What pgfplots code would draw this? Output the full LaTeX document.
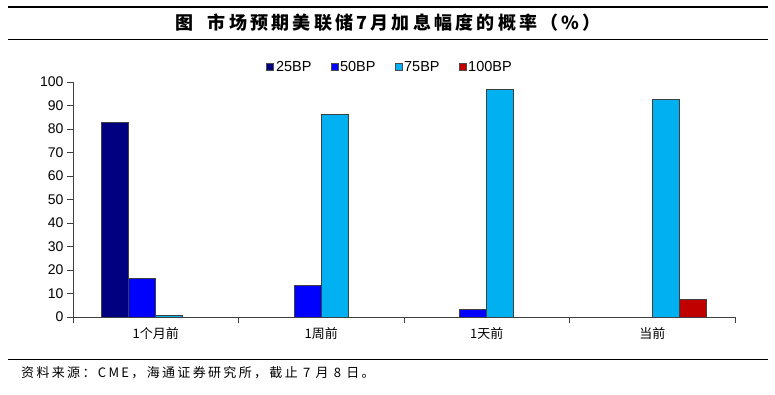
\documentclass[border=0pt]{standalone}
\usepackage{fontspec}
\setmainfont{Liberation Sans}
\newfontfamily\cjk{Noto Sans CJK SC}
\newfontfamily\cjkt[LetterSpace=18]{Noto Sans CJK SC}
\newfontfamily\cjks[LetterSpace=18]{Noto Sans CJK SC}
\usepackage{pgfplots}
\pgfplotsset{compat=1.18}
\definecolor{c25}{HTML}{000080}
\definecolor{c50}{HTML}{0000FF}
\definecolor{c75}{HTML}{00B0F0}
\definecolor{c100}{HTML}{C00000}
\begin{document}
\begin{tikzpicture}
\path (0pt,0pt) rectangle (775pt,395pt);
\draw[line width=1.5pt] (8pt,388pt) -- (768pt,388pt);
\draw[line width=1pt] (8pt,355pt) -- (768pt,355pt);
\node[font=\cjkt\bfseries\fontsize{18}{18}\selectfont] at (388pt,372pt) {图\ \ 市场预期美联储7月加息幅度的概率（\%）};
\draw[line width=1pt] (8pt,35pt) -- (768pt,35pt);
\node[anchor=west, font=\cjks\fontsize{13}{13}\selectfont, inner sep=0pt] at (21pt,22pt) {资料来源：CME，海通证券研究所，截止 7 月 8 日。};
\begin{axis}[
  at={(73pt,78pt)}, anchor=south west,
  scale only axis, width=662pt, height=235pt,
  xmin=-0.5, xmax=3.5, ymin=0, ymax=100,
  axis x line=bottom, axis y line=left,
  axis line style={-, black!75},
  tick style={black!75},
  tick align=outside, major tick length=6pt,
  xtick={-0.5,0.5,1.5,2.5,3.5}, xticklabels={,,,,},
  extra x ticks={0,1,2,3},
  extra x tick labels={1个月前,1周前,1天前,当前},
  extra x tick style={major tick length=0pt, xticklabel style={font=\cjk\fontsize{13}{13}\selectfont, yshift=-7pt}},
  ytick={0,10,...,100},
  yticklabel style={font=\fontsize{14}{14}\selectfont},
  /pgf/number format/assume math mode=true,
  ybar=0pt, bar width=27pt,
  legend image code/.code={\draw[#1,draw=black!70] (0pt,-3.5pt) rectangle (7pt,3.5pt);},
  legend columns=4,
  legend style={at={(0.479,1.064)}, anchor=center, draw=none, font=\fontsize{14.5}{14.5}\selectfont,
    /tikz/every even column/.append style={column sep=17pt}},
  every axis plot/.append style={draw=black!75, line width=0.6pt},
]
\addplot[fill=c25] coordinates {(0,82.8)};
\addplot[fill=c50] coordinates {(0,16.3) (1,13.6) (2,3.1)};
\addplot[fill=c75] coordinates {(0,0.7) (1,86.1) (2,96.9) (3,92.5)};
\addplot[fill=c100] coordinates {(3,7.6)};
\legend{25BP,50BP,75BP,100BP}
\end{axis}
\end{tikzpicture}
\end{document}
